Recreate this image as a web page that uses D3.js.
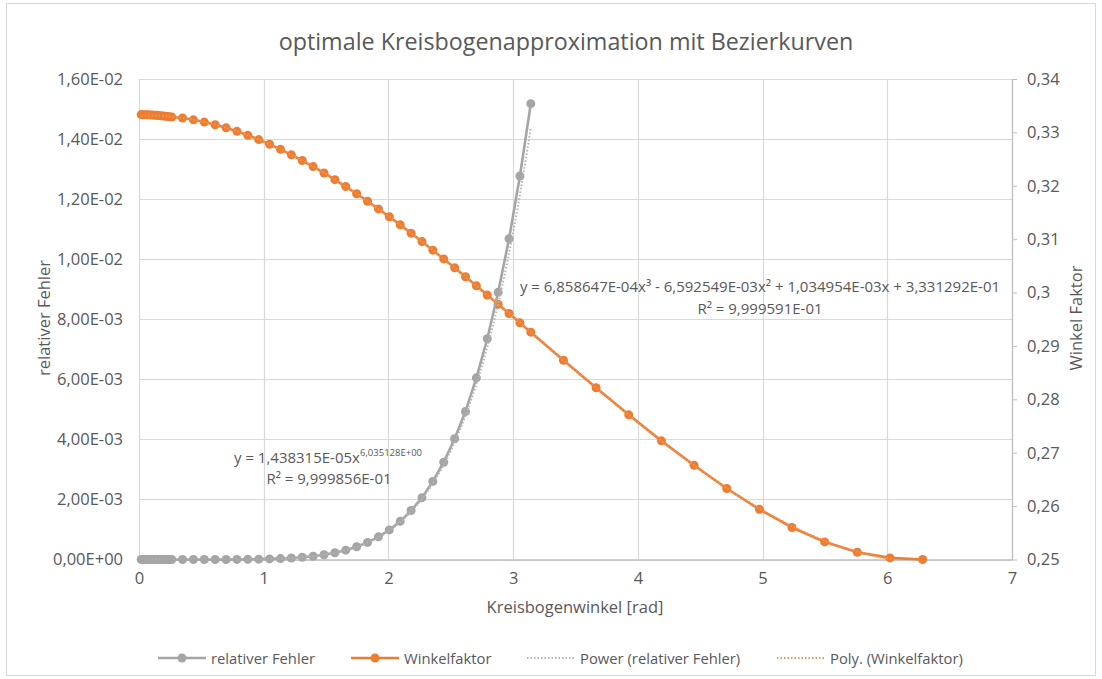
<!DOCTYPE html>
<meta charset="utf-8">
<body style="margin:0;background:#fff">
  <div id="chart"></div>
  <script src="https://d3js.org/d3.v7.min.js"></script>
  <script>
    // chart area and plot margins
    var W = 1102,
      H = 679;
    var margin = {
        top: 79,
        right: 90,
        bottom: 119.5,
        left: 139
      },
      width = W - margin.left - margin.right,
      height = H - margin.top - margin.bottom;

    var font = "'Open Sans', 'Noto Sans', sans-serif";
    var textGray = "#595959";

    // ---- data ----
    // angles (degrees) of the relativer Fehler series
    var fehlerDeg = [1, 2, 3, 4, 5, 6, 7, 8, 9, 10, 11, 12, 13, 14, 15,
      20, 25, 30, 35, 40, 45, 50, 55, 60, 65, 70, 75, 80, 85, 90, 95, 100,
      105, 110, 115, 120, 125, 130, 135, 140, 145, 150, 155, 160, 165, 170, 175, 180
    ];
    var fehler = [3.5e-16, 2.3e-14, 2.7e-13, 1.5e-12, 5.8e-12, 1.7e-11, 4.4e-11, 9.9e-11,
      2.0e-10, 3.8e-10, 6.7e-10, 1.1e-9, 1.9e-9, 2.9e-9, 4.4e-9,
      2.5e-8, 9.6e-8, 2.9e-7, 7.3e-7, 1.6e-6, 3.4e-6, 6.4e-6, 1.13e-5, 1.92e-5,
      3.1e-5, 4.9e-5, 7.4e-5, 1.1e-4, 1.6e-4, 2.25e-4, 3.1e-4, 4.25e-4,
      5.7e-4, 7.55e-4, 9.85e-4, 1.27e-3, 1.63e-3, 2.06e-3, 2.6e-3, 3.24e-3,
      4.02e-3, 4.93e-3, 6.05e-3, 7.35e-3, 8.9e-3, 1.068e-2, 1.277e-2, 1.518e-2
    ];

    // angles (degrees) of the Winkelfaktor series
    var faktorDeg = fehlerDeg.concat([195, 210, 225, 240, 255, 270, 285, 300, 315, 330, 345, 360]);
    var faktor = [0.33333, 0.33332, 0.33331, 0.33330, 0.33328, 0.33326, 0.33323, 0.33320,
      0.33317, 0.33313, 0.33309, 0.33304, 0.33299, 0.33294, 0.33288,
      0.33270, 0.33235, 0.33193, 0.33143, 0.33085, 0.33019, 0.32946, 0.32865, 0.32777,
      0.32682, 0.32580, 0.32473, 0.32359, 0.32240, 0.32115, 0.31985, 0.31850,
      0.31711, 0.31567, 0.31419, 0.31268, 0.31113, 0.30955, 0.30794, 0.30630,
      0.30464, 0.30296, 0.30126, 0.29955, 0.29782, 0.29608, 0.29433, 0.29258,
      0.28733, 0.28216, 0.27710, 0.27222, 0.26765, 0.26330, 0.25940, 0.25600,
      0.25330, 0.25135, 0.25030, 0.25000
    ];

    // trendline coefficients as printed in the chart
    var powerCoef = [1.438315e-05, 6.035128];
    var polyCoef = [6.858647e-04, -6.592549e-03, 1.034954e-03, 3.331292e-01];

    var xTicks = [0, 1, 2, 3, 4, 5, 6, 7];
    var yLeftTicks = [0, 0.002, 0.004, 0.006, 0.008, 0.010, 0.012, 0.014, 0.016];
    var yRightTicks = [0.25, 0.26, 0.27, 0.28, 0.29, 0.30, 0.31, 0.32, 0.33, 0.34];

    var rad = function(d) {
      return d * Math.PI / 180
    };
    var fehlerData = fehlerDeg.map(function(d, i) {
      return {
        x: rad(d),
        y: fehler[i]
      }
    });
    var faktorData = faktorDeg.map(function(d, i) {
      return {
        x: rad(d),
        y: faktor[i]
      }
    });

    // ---- scales ----
    var x = d3.scaleLinear().domain([0, 7]).range([0, width]);
    var yL = d3.scaleLinear().domain([0, 0.016]).range([height, 0]);
    var yR = d3.scaleLinear().domain([0.25, 0.34]).range([height, 0]);

    var sciFmt = function(v) {
      var s = v.toExponential(2).replace(".", ",");
      var parts = s.split("e");
      var exp = parseInt(parts[1], 10);
      var e = (exp < 0 ? "-" : "+") + (Math.abs(exp) < 10 ? "0" : "") + Math.abs(exp);
      return parts[0] + "E" + e;
    };
    var decFmt = function(v) {
      return String(+v.toFixed(2)).replace(".", ",");
    };

    var svg = d3.select("#chart").append("svg")
      .attr("width", W)
      .attr("height", H)
      .style("font-family", font);

    // chart border
    svg.append("rect")
      .attr("x", 6.5).attr("y", 3.5)
      .attr("width", 1089).attr("height", 672)
      .attr("fill", "#fff")
      .attr("stroke", "#d9d9d9");

    var g = svg.append("g")
      .attr("transform", "translate(" + margin.left + "," + margin.top + ")");

    // gridlines
    g.append("g").selectAll("line").data(yLeftTicks).enter().append("line")
      .attr("x1", 0).attr("x2", width)
      .attr("y1", function(d) { return Math.round(yL(d)) + 0.5 })
      .attr("y2", function(d) { return Math.round(yL(d)) + 0.5 })
      .attr("stroke", "#d9d9d9").attr("stroke-width", 1.2);
    g.append("g").selectAll("line").data(xTicks).enter().append("line")
      .attr("y1", 0).attr("y2", height)
      .attr("x1", function(d) { return Math.round(x(d)) + 0.5 })
      .attr("x2", function(d) { return Math.round(x(d)) + 0.5 })
      .attr("stroke", "#d9d9d9").attr("stroke-width", 1.2);

    // bottom axis
    var xAxis = g.append("g")
      .attr("transform", "translate(0," + height + ")")
      .call(d3.axisBottom(x).tickValues(xTicks).tickSize(0).tickPadding(13).tickFormat(d3.format("d")));
    xAxis.select(".domain").attr("stroke", "#bfbfbf").attr("stroke-width", 1.3);

    // left axis (labels only)
    var yAxisL = g.append("g")
      .call(d3.axisLeft(yL).tickValues(yLeftTicks).tickSize(0).tickPadding(16).tickFormat(sciFmt));
    yAxisL.select(".domain").remove();

    // right axis
    var yAxisR = g.append("g")
      .attr("transform", "translate(" + width + ",0)")
      .call(d3.axisRight(yR).tickValues(yRightTicks).tickSize(5).tickSizeOuter(0).tickPadding(10).tickFormat(decFmt));
    yAxisR.select(".domain").attr("stroke", "#bfbfbf").attr("stroke-width", 1.3);
    yAxisR.selectAll(".tick line").attr("stroke", "#bfbfbf");

    svg.selectAll(".tick text")
      .attr("fill", textGray)
      .style("font-family", font)
      .style("font-size", "16.5px");

    // clip for the plot area
    svg.append("defs").append("clipPath").attr("id", "plot")
      .append("rect").attr("x", 0).attr("y", -6).attr("width", width).attr("height", height + 6);

    // series
    var lineL = d3.line().x(function(d) { return x(d.x) }).y(function(d) { return yL(d.y) });
    var lineR = d3.line().x(function(d) { return x(d.x) }).y(function(d) { return yR(d.y) });

    var gray = "#a5a5a5",
      orange = "#ed7d31";

    function drawSeries(data, line, yS, color) {
      g.append("path").datum(data)
        .attr("d", line)
        .attr("fill", "none")
        .attr("stroke", color)
        .attr("stroke-width", 2.6)
        .attr("stroke-linejoin", "round");
      g.append("g").selectAll("circle").data(data).enter().append("circle")
        .attr("cx", function(d) { return x(d.x) })
        .attr("cy", function(d) { return yS(d.y) })
        .attr("r", 4.5)
        .attr("fill", color);
    }
    drawSeries(faktorData, lineR, yR, orange);
    drawSeries(fehlerData, lineL, yL, gray);

    // trendlines from the printed equations
    var xs0 = fehlerData[0].x,
      xs1 = fehlerData[fehlerData.length - 1].x;
    var powerPts = d3.range(0, 201).map(function(i) {
      var t = xs0 + (xs1 - xs0) * i / 200;
      return { x: t, y: powerCoef[0] * Math.pow(t, powerCoef[1]) };
    });
    var xp1 = faktorData[faktorData.length - 1].x;
    var polyPts = d3.range(0, 201).map(function(i) {
      var t = xs0 + (xp1 - xs0) * i / 200;
      return {
        x: t,
        y: ((polyCoef[0] * t + polyCoef[1]) * t + polyCoef[2]) * t + polyCoef[3]
      };
    });
    g.append("path").datum(powerPts)
      .attr("d", lineL)
      .attr("clip-path", "url(#plot)")
      .attr("fill", "none").attr("stroke", "#b4b4b4")
      .attr("stroke-width", 2).attr("stroke-dasharray", "1.5,2");
    g.append("path").datum(polyPts)
      .attr("d", lineR)
      .attr("clip-path", "url(#plot)")
      .attr("fill", "none").attr("stroke", "#f0955a")
      .attr("stroke-width", 2).attr("stroke-dasharray", "1.5,2");

    // trendline labels
    var eqSize = "15px";
    var eq1 = svg.append("text")
      .attr("x", 328).attr("y", 463)
      .attr("text-anchor", "middle")
      .attr("fill", textGray).style("font-size", eqSize);
    eq1.append("tspan").text("y = 1,438315E-05x");
    eq1.append("tspan").attr("dy", -7).style("font-size", "9.5px").text("6,035128E+00");
    svg.append("text")
      .attr("x", 329).attr("y", 484)
      .attr("text-anchor", "middle")
      .attr("fill", textGray).style("font-size", eqSize)
      .text("R² = 9,999856E-01");

    svg.append("text")
      .attr("x", 760).attr("y", 292)
      .attr("text-anchor", "middle")
      .attr("fill", textGray).style("font-size", eqSize)
      .text("y = 6,858647E-04x³ - 6,592549E-03x² + 1,034954E-03x + 3,331292E-01");
    svg.append("text")
      .attr("x", 760).attr("y", 314)
      .attr("text-anchor", "middle")
      .attr("fill", textGray).style("font-size", eqSize)
      .text("R² = 9,999591E-01");

    // title and axis titles
    svg.append("text")
      .attr("x", 566).attr("y", 50)
      .attr("text-anchor", "middle")
      .attr("fill", textGray).style("font-size", "23.3px")
      .text("optimale Kreisbogenapproximation mit Bezierkurven");
    svg.append("text")
      .attr("x", 575).attr("y", 613)
      .attr("text-anchor", "middle")
      .attr("fill", textGray).style("font-size", "16.5px")
      .text("Kreisbogenwinkel [rad]");
    svg.append("text")
      .attr("transform", "translate(50,318) rotate(-90)")
      .attr("text-anchor", "middle")
      .attr("fill", textGray).style("font-size", "16.5px")
      .text("relativer Fehler");
    svg.append("text")
      .attr("transform", "translate(1082,318) rotate(-90)")
      .attr("text-anchor", "middle")
      .attr("fill", textGray).style("font-size", "16.5px")
      .text("Winkel Faktor");

    // legend
    var legendItems = [
      { label: "relativer Fehler", color: gray, dash: null, marker: true, x: 158 },
      { label: "Winkelfaktor", color: orange, dash: null, marker: true, x: 351 },
      { label: "Power (relativer Fehler)", color: "#b4b4b4", dash: "1.5,2", marker: false, x: 527 },
      { label: "Poly. (Winkelfaktor)", color: "#f0955a", dash: "1.5,2", marker: false, x: 777 }
    ];
    var lg = svg.append("g").attr("transform", "translate(0,658)");
    legendItems.forEach(function(d) {
      var len = 48;
      lg.append("line")
        .attr("x1", d.x).attr("x2", d.x + len)
        .attr("y1", 0).attr("y2", 0)
        .attr("stroke", d.color)
        .attr("stroke-width", d.marker ? 2.6 : 2)
        .attr("stroke-dasharray", d.dash);
      if (d.marker) {
        lg.append("circle").attr("cx", d.x + len / 2).attr("cy", 0).attr("r", 4.5).attr("fill", d.color);
      }
      lg.append("text")
        .attr("x", d.x + len + 5)
        .attr("y", 5.5)
        .attr("fill", textGray).style("font-size", "14.8px")
        .text(d.label);
    });
  </script>
</body>
